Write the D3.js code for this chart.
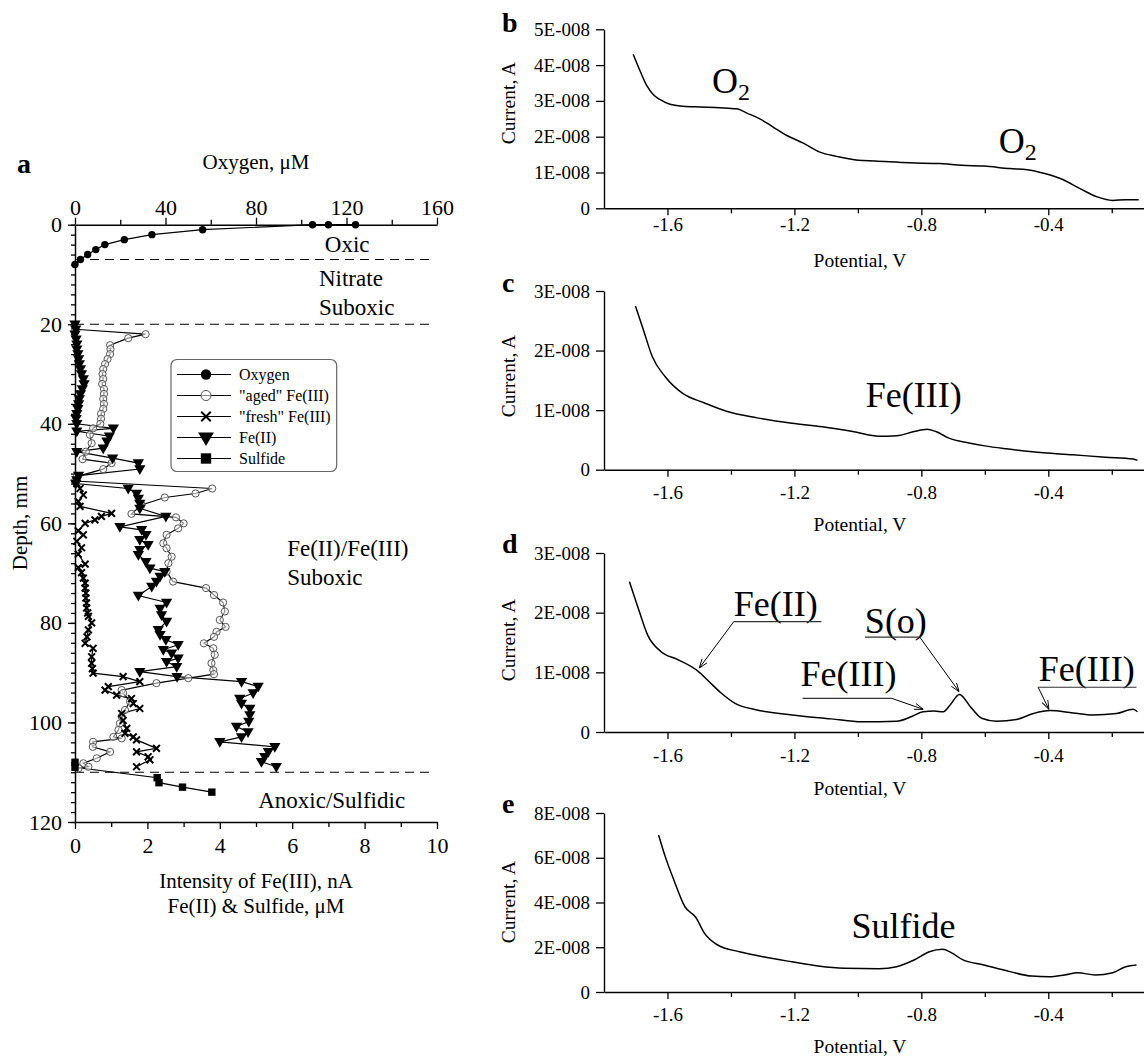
<!DOCTYPE html>
<html><head><meta charset="utf-8">
<script src="https://cdn.jsdelivr.net/npm/d3@7"></script>
<style>
body{margin:0;background:#fff}
svg text{font-family:"Liberation Serif","Times New Roman",serif;fill:#000}
</style>
</head><body>
<svg id="chart" width="1144" height="1059"></svg>
<script>
// ---------------- DATA: panel a ----------------
const oxygenDepth = [0,0,0,1,2,3,4,5,6,7,8];
const oxygenValue = [124,112,105,56.4,34,21.8,13.2,9.2,5.6,2.4,0];

const agedDepth = [21,22,22.8,24.2,25,26,27,28,29,30,31,32,33,34,35,36,37,38,39,40,40.9,42.2,43.9,45.6,47.1,47.9,49.1,50.6,51.5,53,54,54.8,56.3,58.1,58.8,60,61,62.3,64,65,66.7,68,69.7,71.7,73,74.4,75.9,77.7,79.4,80.8,81.8,82.8,84.1,85.1,86.4,88.1,89.5,90.3,91.1,92.1,93.5,94.1,95.8,97.5,98.8,100.2,101.5,102.9,103.2,103.9,104.9,105.9,107.2,108.2,108.9,109.2];
const agedValue = [0,1.95,1.47,0.97,0.98,0.97,0.9,0.83,0.78,0.76,0.78,0.75,0.8,0.8,0.78,0.8,0.78,0.72,0.72,0.7,0.5,0.41,0.46,0.3,0.21,1.01,0.78,0.05,0,3.79,3.33,2.48,1.84,1.56,2.79,3.0,2.85,2.53,2.44,2.53,2.67,2.58,2.53,2.71,3.62,3.84,4.09,4.14,4.0,4.16,3.91,3.84,3.56,3.82,3.86,3.77,3.82,3.84,3.13,2.25,1.29,1.33,1.52,1.38,1.29,1.24,1.2,1.06,1.29,0.5,0.49,0.97,0.6,0.23,0.37,0.1];

const freshDepth = [52,53,54.3,55.6,56.6,58,58.6,59.3,60,61.5,62.3,63.6,64.9,66.2,68.2,68.9,69.9,71,72,73,74,75,76,77,78,78.7,80,81.4,82.8,84.1,85.1,86.8,88.1,89.2,90.1,90.8,91.8,92.8,93.5,94.5,95.2,96.2,97.2,98.2,99.6,101.2,102.2,102.9,103.5,105.2,105.9,106.9,107.5,108.9];
const freshValue = [0.05,0.14,0.23,0.09,0.14,1.01,0.73,0.55,0.28,0.09,0.23,0.05,0.18,0.09,0.28,0.09,0.18,0.23,0.28,0.28,0.3,0.3,0.32,0.32,0.35,0.37,0.46,0.37,0.33,0.28,0.5,0.46,0.46,0.48,0.5,1.33,1.79,0.92,0.83,1.15,1.56,1.61,1.79,1.29,1.33,1.43,1.38,1.61,1.7,2.25,1.7,2.02,2.07,1.7];

const fe2Depth = [20,21,22,23,24,25,26,27,28,29,30,31,32,33,34,35,36,37,38,39,40,40.9,41.5,42.5,43.5,44.9,45.6,46.9,47.9,49.1,50.4,51.3,52,53,54,55,56,57,58.6,60.7,61.3,62.3,63.3,64.3,65.3,66.3,67.7,69,69.7,70.7,71.7,72.7,74.5,75.9,77.1,78.4,79.7,81.4,82.4,83.4,84.4,85.4,86.1,87.1,87.8,88.8,89.8,90.8,91.8,92.8,94.1,95.2,96.2,97.2,98.5,99.8,100.8,101.9,102.9,103.9,104.9,105.9,106.9,107.9,108.9];
const fe2Value = [0,0.02,0,0.03,0.05,0.05,0.08,0.1,0.12,0.15,0.18,0.23,0.25,0.2,0.15,0.12,0.1,0.08,0.05,0.03,0.05,1.06,0.05,0.95,0.88,0.78,0.05,1.04,1.75,1.79,0.1,0.05,0.02,1.47,1.7,1.75,1.79,1.79,2.51,1.24,1.84,1.96,1.79,2.02,1.79,1.75,1.96,2.07,2.48,2.35,2.25,2.12,1.75,2.53,2.35,2.39,2.53,2.3,2.35,2.51,2.85,2.44,2.67,2.85,2.53,2.81,1.79,2.82,4.6,5.06,4.92,4.55,4.6,4.83,4.83,4.8,4.46,4.78,4.6,4.0,5.52,5.34,5.24,5.15,5.56];

const sulfideDepth = [108,109,111.1,112.1,113,114];
const sulfideValue = [0,0,2.27,2.32,2.97,3.78];

const zoneBoundaries = [7,20,110];
const depthTicks = [0,20,40,60,80,100,120];
const depthTickLabels = ["0","20","40","60","80","100","120"];
const feTicks = [0,2,4,6,8,10];
const feTickLabels = ["0","2","4","6","8","10"];
const oxyTicks = [0,40,80,120,160];
const oxyTickLabels = ["0","40","80","120","160"];
const legendNames = ["Oxygen","\"aged\" Fe(III)","\"fresh\" Fe(III)","Fe(II)","Sulfide"];

// ---------------- DATA: voltammograms (current in 1E-008 A) ----------------
const bPot = [-1.708,-1.687,-1.666,-1.645,-1.624,-1.592,-1.55,-1.498,-1.435,-1.382,-1.35,-1.309,-1.267,-1.225,-1.172,-1.12,-1.067,-0.999,-0.947,-0.837,-0.741,-0.672,-0.603,-0.521,-0.466,-0.411,-0.356,-0.30,-0.246,-0.198,-0.156,-0.115];
const bCur = [4.30,3.85,3.44,3.18,3.04,2.905,2.85,2.83,2.81,2.78,2.66,2.50,2.27,2.04,1.82,1.57,1.45,1.34,1.32,1.27,1.25,1.20,1.18,1.11,1.08,0.97,0.81,0.55,0.32,0.22,0.24,0.24];

const cPot = [-1.701,-1.676,-1.648,-1.607,-1.552,-1.483,-1.414,-1.318,-1.208,-1.112,-1.016,-0.933,-0.878,-0.823,-0.782,-0.754,-0.713,-0.65,-0.6,-0.532,-0.45,-0.322,-0.22,-0.133,-0.119];
const cCur = [2.75,2.35,1.90,1.56,1.28,1.12,0.98,0.87,0.78,0.72,0.64,0.56,0.57,0.64,0.68,0.64,0.53,0.45,0.40,0.35,0.30,0.25,0.21,0.18,0.156];

const dPot = [-1.72,-1.69,-1.662,-1.621,-1.566,-1.504,-1.47,-1.43,-1.387,-1.318,-1.208,-1.084,-0.988,-0.878,-0.83,-0.794,-0.76,-0.731,-0.71,-0.68,-0.642,-0.61,-0.563,-0.5,-0.447,-0.395,-0.322,-0.259,-0.185,-0.133,-0.119];
const dCur = [2.52,2.04,1.62,1.35,1.21,1.02,0.85,0.65,0.48,0.37,0.285,0.22,0.17,0.18,0.26,0.34,0.35,0.34,0.45,0.63,0.40,0.23,0.18,0.21,0.31,0.36,0.32,0.285,0.31,0.38,0.34];

const ePot = [-1.628,-1.607,-1.580,-1.545,-1.511,-1.483,-1.442,-1.373,-1.29,-1.208,-1.125,-1.043,-0.933,-0.878,-0.823,-0.775,-0.733,-0.706,-0.672,-0.603,-0.521,-0.452,-0.397,-0.349,-0.307,-0.252,-0.197,-0.156,-0.122];
const eCur = [7.02,6.05,5.01,3.81,3.34,2.62,2.10,1.80,1.55,1.35,1.16,1.06,1.04,1.13,1.43,1.80,1.91,1.76,1.46,1.21,0.91,0.71,0.68,0.76,0.86,0.76,0.86,1.13,1.21];

const potTicks = [-1.6,-1.2,-0.8,-0.4];
const potTickLabels = ["-1.6","-1.2","-0.8","-0.4"];
const potMinorTicks = [-1.4,-1.0,-0.6,-0.2];
const bCurTicks = [0,1,2,3,4,5];
const bCurTickLabels = ["0","1E-008","2E-008","3E-008","4E-008","5E-008"];
const cCurTicks = [0,1,2,3];
const cCurTickLabels = ["0","1E-008","2E-008","3E-008"];
const dCurTicks = [0,1,2,3];
const dCurTickLabels = ["0","1E-008","2E-008","3E-008"];
const eCurTicks = [0,2,4,6,8];
const eCurTickLabels = ["0","2E-008","4E-008","6E-008","8E-008"];

// ---------------- DRAWING ----------------
const svg = d3.select("#chart");
const FONT = '"Liberation Serif","Times New Roman",serif';

svg.append("defs").append("marker")
  .attr("id","arr").attr("viewBox","0 0 10 10").attr("refX",10).attr("refY",5)
  .attr("markerWidth",9).attr("markerHeight",9).attr("orient","auto").attr("markerUnits","userSpaceOnUse")
  .append("path").attr("d","M0,1.5 L10,5 L0,8.5").attr("fill","none").attr("stroke","#000").attr("stroke-width",1);

function styleAxis(g, fs, domainW){
  g.attr("font-family", FONT).attr("font-size", fs);
  g.selectAll("path.domain").attr("stroke","#000").attr("stroke-width", domainW||1.5);
  g.selectAll(".tick line").attr("stroke","#000").attr("stroke-width",1.3);
  g.selectAll(".tick text").attr("fill","#000").attr("font-family", FONT);
}

// ===== Panel a =====
const aX = d3.scaleLinear().domain([0,10]).range([75,437]);
const aO = d3.scaleLinear().domain([0,160]).range([75,437]);
const aY = d3.scaleLinear().domain([0,120]).range([224.7,822]);
const A = svg.append("g");

// minor ticks
A.append("g").attr("transform",`translate(${aX(0)},0)`)
  .call(d3.axisLeft(aY).tickValues(d3.range(0,121,2)).tickSize(4).tickFormat("").tickSizeOuter(0))
  .call(g=>{g.select(".domain").remove(); styleAxis(g,22);});
A.append("g").attr("transform",`translate(0,${aY(120)})`)
  .call(d3.axisBottom(aX).tickValues([1,3,5,7,9]).tickSize(5).tickFormat("").tickSizeOuter(0))
  .call(g=>{g.select(".domain").remove(); styleAxis(g,22);});
A.append("g").attr("transform",`translate(0,${aY(0)})`)
  .call(d3.axisTop(aO).tickValues([20,60,100,140]).tickSize(5).tickFormat("").tickSizeOuter(0))
  .call(g=>{g.select(".domain").remove(); styleAxis(g,22);});
// major axes
A.append("g").attr("transform",`translate(${aX(0)},0)`)
  .call(d3.axisLeft(aY).tickValues(depthTicks).tickSize(7).tickPadding(6).tickSizeOuter(0)
    .tickFormat((d,i)=>depthTickLabels[i]))
  .call(g=>styleAxis(g,22));
A.append("g").attr("transform",`translate(0,${aY(120)})`)
  .call(d3.axisBottom(aX).tickValues(feTicks).tickSize(7).tickPadding(8).tickSizeOuter(0)
    .tickFormat((d,i)=>feTickLabels[i]))
  .call(g=>styleAxis(g,22));
A.append("g").attr("transform",`translate(0,${aY(0)})`)
  .call(d3.axisTop(aO).tickValues(oxyTicks).tickSize(7).tickPadding(3).tickSizeOuter(0)
    .tickFormat((d,i)=>oxyTickLabels[i]))
  .call(g=>styleAxis(g,22));

// zone boundaries
A.selectAll("line.zone").data(zoneBoundaries).enter().append("line")
  .attr("x1",aX(0)).attr("x2",aX(9.85)).attr("y1",d=>aY(d)).attr("y2",d=>aY(d))
  .attr("stroke","#000").attr("stroke-width",1.1).attr("stroke-dasharray","9,6");

// axis titles
A.append("text").attr("x",256).attr("y",169).attr("text-anchor","middle").attr("font-size",21).text("Oxygen, \u03bcM");
A.append("text").attr("x",256).attr("y",888).attr("text-anchor","middle").attr("font-size",21).text("Intensity of Fe(III), nA");
A.append("text").attr("x",256).attr("y",913).attr("text-anchor","middle").attr("font-size",21).text("Fe(II) & Sulfide, \u03bcM");
A.append("text").attr("transform","translate(27,523) rotate(-90)").attr("text-anchor","middle").attr("font-size",21).text("Depth, mm");
A.append("text").attr("x",17).attr("y",173).attr("font-size",28).attr("font-weight","bold").text("a");

// zone labels
const zoneLabels = [
  {t:"Oxic", v:6.9, d:5.5},
  {t:"Nitrate", v:6.74, d:12.3},
  {t:"Suboxic", v:6.74, d:18.1},
  {t:"Fe(II)/Fe(III)", v:5.86, d:66.6},
  {t:"Suboxic", v:5.86, d:72.3},
  {t:"Anoxic/Sulfidic", v:5.06, d:117.2}
];
A.selectAll("text.zl").data(zoneLabels).enter().append("text")
  .attr("x",d=>aX(d.v)).attr("y",d=>aY(d.d)).attr("font-size",23).text(d=>d.t);

// series lines
const line = d3.line().x(d=>d[0]).y(d=>d[1]);
function pts(dep,val,xs){ return dep.map((d,i)=>[xs(val[i]), aY(d)]); }
const oxyP = pts(oxygenDepth,oxygenValue,aO);
const agedP = pts(agedDepth,agedValue,aX);
const freshP = pts(freshDepth,freshValue,aX);
const fe2P = pts(fe2Depth,fe2Value,aX);
const sulP = pts(sulfideDepth,sulfideValue,aX);
[oxyP,agedP,freshP,fe2P,sulP].forEach(p=>{
  A.append("path").attr("d",line(p)).attr("fill","none").attr("stroke","#000").attr("stroke-width",1.2);
});
function markers(g, p, kind, scale){
  const s = scale||1;
  p.forEach(q=>{
    const [x,y]=q;
    if(kind==="oxy") g.append("circle").attr("cx",x).attr("cy",y).attr("r",3.7*s).attr("fill","#000");
    else if(kind==="aged") g.append("circle").attr("cx",x).attr("cy",y).attr("r",3.6*s).attr("fill","#fff").attr("fill-opacity",0.55).attr("stroke","#555").attr("stroke-width",1);
    else if(kind==="fresh") { const r=3.4*s; g.append("path").attr("d",`M${x-r},${y-r}L${x+r},${y+r}M${x-r},${y+r}L${x+r},${y-r}`).attr("stroke","#000").attr("stroke-width",2); }
    else if(kind==="fe2") g.append("path").attr("d",d3.symbol().type(d3.symbolTriangle).size(55*s*s)()).attr("transform",`translate(${x},${y-0.5}) rotate(180)`).attr("fill","#000");
    else if(kind==="sul") { const r=3.7*s; g.append("rect").attr("x",x-r).attr("y",y-r).attr("width",2*r).attr("height",2*r).attr("fill","#000"); }
  });
}
markers(A,agedP,"aged");
markers(A,freshP,"fresh");
markers(A,fe2P,"fe2");
markers(A,sulP,"sul");
markers(A,oxyP,"oxy");

// legend
const L = A.append("g");
const legendKinds = ["oxy","aged","fresh","fe2","sul"];
const legY0 = 374.5, legDy = 21;
const legTexts = [];
legendNames.forEach((n,i)=>{
  const y = legY0 + i*legDy;
  L.append("line").attr("x1",177).attr("x2",231).attr("y1",y).attr("y2",y).attr("stroke","#000").attr("stroke-width",1.2);
  markers(L,[[206,y]],legendKinds[i],1.4);
  legTexts.push(L.append("text").attr("x",239).attr("y",y+5.5).attr("font-size",16).text(n));
});
let maxR = 0; legTexts.forEach(t=>{ const b=t.node().getBBox(); maxR=Math.max(maxR,b.x+b.width); });
L.insert("rect",":first-child").attr("x",171).attr("y",359.5).attr("width",maxR+6-171).attr("height",112)
  .attr("rx",6).attr("fill","#fff").attr("stroke","#666").attr("stroke-width",1.2);

// ===== Panels b-e =====
const px = d3.scaleLinear().domain([-1.8,-0.1]).range([604,1143.5]);
const panels = [
  {letter:"b", pot:bPot, cur:bCur, max:5, top:29.3, bottom:208.3, ticks:bCurTicks, labels:bCurTickLabels, pad:2, titleY:267, yLabY:103, letterY:32},
  {letter:"c", pot:cPot, cur:cCur, max:3, top:291, bottom:469.7, ticks:cCurTicks, labels:cCurTickLabels, pad:9, titleY:531, yLabY:376, letterY:292},
  {letter:"d", pot:dPot, cur:dCur, max:3, top:553, bottom:732, ticks:dCurTicks, labels:dCurTickLabels, pad:10, titleY:795, yLabY:640, letterY:553},
  {letter:"e", pot:ePot, cur:eCur, max:8, top:813, bottom:992, ticks:eCurTicks, labels:eCurTickLabels, pad:9, titleY:1053, yLabY:902, letterY:813}
];
const scales = {};
panels.forEach(P=>{
  const y = d3.scaleLinear().domain([0,P.max]).range([P.bottom,P.top]);
  scales[P.letter]=y;
  const g = svg.append("g");
  g.append("g").attr("transform",`translate(0,${P.bottom})`)
    .call(d3.axisBottom(px).tickValues(potMinorTicks).tickSize(5).tickFormat("").tickSizeOuter(0))
    .call(a=>{a.select(".domain").remove(); styleAxis(a,19);});
  g.append("g").attr("transform",`translate(0,${P.bottom})`)
    .call(d3.axisBottom(px).tickValues(potTicks).tickSize(7).tickPadding(P.pad).tickSizeOuter(0)
      .tickFormat((d,i)=>potTickLabels[i]))
    .call(a=>styleAxis(a,19,1.4));
  g.append("g").attr("transform",`translate(${px(-1.8)},0)`)
    .call(d3.axisLeft(y).tickValues(P.ticks).tickSize(8).tickPadding(6).tickSizeOuter(0)
      .tickFormat((d,i)=>P.labels[i]))
    .call(a=>styleAxis(a,19,1.4));
  g.append("path").attr("d", d3.line().curve(d3.curveMonotoneX).x((d,i)=>px(P.pot[i])).y((d,i)=>y(P.cur[i]))(P.pot))
    .attr("fill","none").attr("stroke","#000").attr("stroke-width",1.5);
  g.append("text").attr("x",860).attr("y",P.titleY).attr("text-anchor","middle").attr("font-size",19.5).text("Potential, V");
  g.append("text").attr("transform",`translate(508,${P.yLabY}) rotate(-90)`).attr("text-anchor","middle")
    .attr("dominant-baseline","central").attr("font-size",19.5).text("Current, A");
  g.append("text").attr("x",502).attr("y",P.letterY).attr("font-size",28).attr("font-weight","bold").text(P.letter);
});

// peak labels
function o2(g, v, c, ys){
  const t = g.append("text").attr("x",px(v)).attr("y",ys(c)).attr("font-size",36);
  t.append("tspan").text("O");
  t.append("tspan").attr("font-size",24).attr("dy",7).text("2");
}
o2(svg, -1.46, 3.21, scales.b);
o2(svg, -0.556, 1.54, scales.b);
svg.append("text").attr("x",px(-0.975)).attr("y",scales.c(1.06)).attr("font-size",36).text("Fe(III)");
svg.append("text").attr("x",px(-1.02)).attr("y",scales.e(2.41)).attr("font-size",36).text("Sulfide");

// panel d annotations
const dAnn = [
  {t:"Fe(II)", v:-1.391, c:1.94, u1:-1.391, u2:-1.115, uc:1.85, sv:-1.391, tv:-1.5, tc:1.07},
  {t:"S(o)", v:-0.978, c:1.66, u1:-0.978, u2:-0.805, uc:1.59, sv:-0.805, tv:-0.681, tc:0.675},
  {t:"Fe(III)", v:-1.181, c:0.77, u1:-1.174, u2:-0.894, uc:0.565, sv:-0.894, tv:-0.794, tc:0.38},
  {t:"Fe(III)", v:-0.430, c:0.854, u1:-0.432, u2:-0.122, uc:0.75, sv:-0.432, tv:-0.398, tc:0.38}
];
const yd = scales.d;
dAnn.forEach(a=>{
  svg.append("text").attr("x",px(a.v)).attr("y",yd(a.c)).attr("font-size",36).text(a.t);
  svg.append("line").attr("x1",px(a.u1)).attr("x2",px(a.u2)).attr("y1",yd(a.uc)).attr("y2",yd(a.uc))
    .attr("stroke","#333").attr("stroke-width",1.2);
  svg.append("line").attr("x1",px(a.sv)).attr("y1",yd(a.uc)).attr("x2",px(a.tv)).attr("y2",yd(a.tc))
    .attr("stroke","#000").attr("stroke-width",1).attr("marker-end","url(#arr)");
});
</script>
</body></html>
